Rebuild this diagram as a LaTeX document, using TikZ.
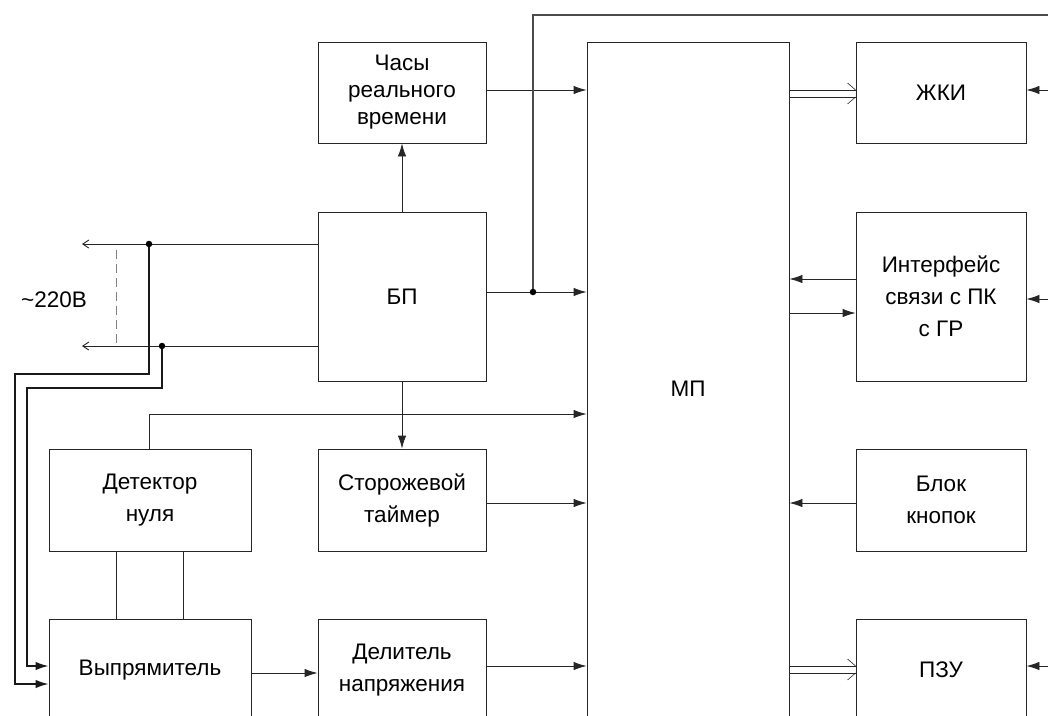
\documentclass[tikz,border=0pt]{standalone}
\usepackage{fontspec}
\setmainfont{Liberation Sans}
\usetikzlibrary{arrows.meta,calc}
\begin{document}
\begin{tikzpicture}[x=1pt,y=-1pt,
  ln/.style={line width=0.9pt, draw=black!85},
  thk/.style={line width=1.6pt, draw=black!90},
  blk/.style={ln, rectangle, inner sep=0pt, align=center, font=\fontsize{22.5}{32}\selectfont},
  arr/.style={ln, -{Latex[length=13pt,width=8.5pt]}},
  tarr/.style={thk, -{Latex[length=13pt,width=8.5pt]}},
  barb/.style={ln, -{Straight Barb[length=6pt,width=8pt]}},
  dot/.style={circle, fill=black, inner sep=0pt, minimum size=6.5pt},
  lbl/.style={font=\fontsize{22.5}{32}\selectfont, inner sep=0pt}]
\useasboundingbox (0,0) rectangle (1048,715);
\fill[white] (0,0) rectangle (1048,715);
\clip (0,0) rectangle (1048,715);

% blocks
\node[blk, minimum width=168pt, minimum height=101pt, font=\fontsize{22.5}{27}\selectfont] (chasy) at (402,92.5) {Часы\\реального\\времени};
\node[blk, minimum width=168pt, minimum height=169pt] (bp) at (402,296.5) {БП};
\node[blk, minimum width=168pt, minimum height=102pt] (stor) at (402,500) {Сторожевой\\таймер};
\node[blk, minimum width=168pt, minimum height=102pt] (delit) at (402,670) {Делитель\\напряжения};
\node[blk, minimum width=202pt, minimum height=102pt] (detek) at (150,500) {Детектор\\нуля};
\node[blk, minimum width=202pt, minimum height=102pt] (vypr) at (150,670) {Выпрямитель};
\node[blk, minimum width=202pt, minimum height=693pt] (mp) at (688,388.5) {МП};
\node[blk, minimum width=170pt, minimum height=101pt] (zhki) at (941,92.5) {ЖКИ};
\node[blk, minimum width=170pt, minimum height=169pt] (intf) at (941,296.5) {Интерфейс\\связи с ПК\\с ГР};
\node[blk, minimum width=170pt, minimum height=102pt] (blok) at (941,500) {Блок\\кнопок};
\node[blk, minimum width=170pt, minimum height=102pt] (pzu) at (941,670) {ПЗУ};

\node[lbl] (v220) at (54,300) {\textasciitilde 220В};

% coordinates
\coordinate (jA) at (149,244);
\coordinate (jB) at (162,346);
\coordinate (jC) at (533,292);
\coordinate (L1) at (82,244);
\coordinate (L2) at (82,346);
\coordinate (R1) at (1048,90);
\coordinate (R2) at (1048,299);
\coordinate (R3) at (1048,666);
\coordinate (TopR) at (1048,15);

% Часы -> МП
\draw[arr] (chasy.east|-0,90) -- (mp.west|-0,90);
% БП -> Часы, БП -> Сторожевой
\draw[arr] (bp.north) -- (chasy.south);
\draw[arr] (bp.south) -- (stor.north);
% БП -> МП with branch
\draw[arr] (bp.east|-jC) -- (mp.west|-jC);
\draw[line width=1.3pt, draw=black!70] (jC) -- (533,15) -- (TopR);
\node[dot] at (jC) {};
% Сторожевой -> МП, Делитель -> МП
\draw[arr] (stor.east|-0,503) -- (mp.west|-0,503);
\draw[arr] (delit.east|-0,666) -- (mp.west|-0,666);
% Выпрямитель -> Делитель
\draw[arr] (vypr.east|-0,673) -- (delit.west|-0,673);
% Детектор -> МП
\draw[arr] (detek.north-|149,0) -- (149,414) -- (mp.west|-0,414);
% Детектор - Выпрямитель
\draw[ln] (detek.south-|116,0) -- (vypr.north-|116,0);
\draw[ln] (detek.south-|183,0) -- (vypr.north-|183,0);
% mains wires
\draw[barb] (bp.west|-jA) -- (L1);
\draw[barb] (bp.west|-jB) -- (L2);
\draw[ln, dashed, dash pattern=on 9pt off 5pt, draw=black!50] (116,250) -- (116,346);
\draw[tarr] (jA) -- (149,374) -- (15,374) -- (15,684) -- (vypr.west|-0,684);
\draw[tarr] (jB) -- (162,388) -- (27,388) -- (27,666) -- (vypr.west|-0,666);
\node[dot] at (jA) {};
\node[dot] at (jB) {};
% МП <-> Интерфейс
\draw[arr] (intf.west|-0,279) -- (mp.east|-0,279);
\draw[arr] (mp.east|-0,313) -- (intf.west|-0,313);
% Блок кнопок -> МП
\draw[arr] (blok.west|-0,503) -- (mp.east|-0,503);
% double buses
\draw[ln] (mp.east|-0,90) -- (zhki.west|-0,90);
\draw[ln] (mp.east|-0,97) -- (zhki.west|-0,97);
\draw[ln, line width=0.6pt] ($(zhki.west|-0,90)+(-8,-7)$) -- (zhki.west|-0,90);
\draw[ln, line width=0.6pt] ($(zhki.west|-0,97)+(-8,7)$) -- (zhki.west|-0,97);
\draw[ln] (mp.east|-0,666) -- (pzu.west|-0,666);
\draw[ln] (mp.east|-0,673) -- (pzu.west|-0,673);
\draw[ln, line width=0.6pt] ($(pzu.west|-0,666)+(-8,-7)$) -- (pzu.west|-0,666);
\draw[ln, line width=0.6pt] ($(pzu.west|-0,673)+(-8,7)$) -- (pzu.west|-0,673);
% right-side inputs
\draw[arr] (R1) -- (zhki.east|-R1);
\draw[arr] (R2) -- (intf.east|-R2);
\draw[arr] (R3) -- (pzu.east|-R3);
\end{tikzpicture}
\end{document}
